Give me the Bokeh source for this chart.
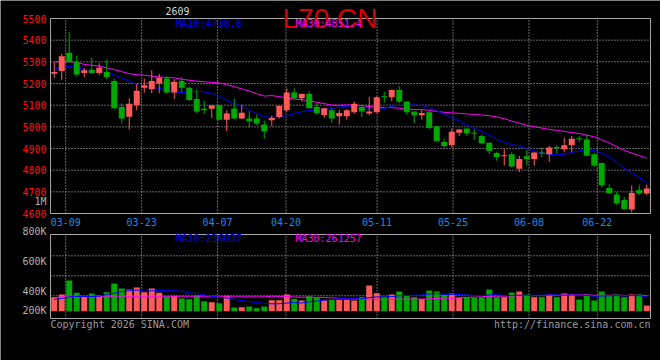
import numpy as np
import pandas as pd
from bokeh.plotting import figure
from bokeh.models import Range1d, Label
from bokeh.core.properties import value
from bokeh.embed import file_html
from bokeh.resources import INLINE

# ---------------- data ----------------
dates = ["03-05", "03-06",
         "03-09", "03-10", "03-11", "03-12", "03-13",
         "03-16", "03-17", "03-18", "03-19", "03-20",
         "03-23", "03-24", "03-25", "03-26", "03-27",
         "03-30", "03-31", "04-01", "04-02", "04-03",
         "04-07", "04-08", "04-09", "04-10",
         "04-13", "04-14", "04-15", "04-16", "04-17",
         "04-20", "04-21", "04-22", "04-23", "04-24",
         "04-27", "04-28", "04-29", "04-30",
         "05-06", "05-07", "05-08",
         "05-11", "05-12", "05-13", "05-14", "05-15",
         "05-18", "05-19", "05-20", "05-21", "05-22",
         "05-25", "05-26", "05-27", "05-28", "05-29",
         "06-01", "06-02", "06-03", "06-04", "06-05",
         "06-08", "06-09", "06-10", "06-11", "06-12",
         "06-15", "06-16", "06-17", "06-18",
         "06-22", "06-23", "06-24", "06-25", "06-26",
         "06-29", "06-30", "07-01"]

opens = [5245, 5258, 5342, 5298, 5248, 5264, 5248, 5253, 5211, 5091,
         5047, 5100, 5180, 5174, 5200, 5223, 5158, 5211, 5180, 5129,
         5083, 5083, 5100, 5033, 5085, 5038, 5039, 5038, 5011, 5030,
         5045, 5076, 5158, 5132, 5152, 5091, 5055, 5076, 5049, 5049,
         5067, 5091, 5061, 5067, 5141, 5136, 5170, 5117, 5071, 5053,
         5067, 5003, 4930, 4915, 4973, 4992, 4972, 4958, 4927, 4879,
         4865, 4874, 4806, 4864, 4852, 4881, 4874, 4906, 4897, 4915,
         4946, 4942, 4874, 4833, 4718, 4688, 4662, 4618, 4708, 4692]
highs = [5298, 5336, 5438, 5329, 5271, 5320, 5294, 5311, 5221, 5109,
         5133, 5200, 5223, 5261, 5245, 5233, 5220, 5230, 5185, 5173,
         5120, 5100, 5102, 5076, 5130, 5102, 5071, 5056, 5029, 5052,
         5097, 5177, 5177, 5155, 5165, 5109, 5086, 5086, 5079, 5082,
         5117, 5102, 5139, 5140, 5162, 5173, 5188, 5117, 5071, 5079,
         5079, 5003, 4945, 4992, 4988, 4992, 4988, 4965, 4927, 4885,
         4897, 4882, 4867, 4894, 4882, 4905, 4912, 4915, 4950, 4958,
         4958, 4965, 4880, 4833, 4735, 4700, 4677, 4730, 4733, 4733]
lows = [5227, 5215, 5295, 5233, 5230, 5245, 5238, 5220, 5082, 5015,
        4988, 5076, 5158, 5155, 5155, 5152, 5129, 5158, 5120, 5064,
        5059, 5041, 5029, 4980, 5035, 5035, 4996, 5006, 4945, 5003,
        5038, 5067, 5124, 5117, 5086, 5056, 5041, 5018, 5011, 5033,
        5061, 5045, 5053, 5065, 5112, 5117, 5109, 5056, 5018, 5033,
        4988, 4930, 4905, 4905, 4958, 4958, 4940, 4920, 4874, 4844,
        4821, 4812, 4791, 4821, 4821, 4859, 4838, 4877, 4882, 4882,
        4930, 4864, 4815, 4722, 4690, 4640, 4617, 4605, 4685, 4685]
closes = [5253, 5326, 5298, 5242, 5261, 5248, 5273, 5230, 5086, 5038,
          5106, 5167, 5192, 5211, 5226, 5158, 5208, 5180, 5124, 5071,
          5076, 5100, 5033, 5061, 5038, 5065, 5026, 5015, 4980, 5041,
          5097, 5158, 5132, 5152, 5086, 5064, 5086, 5038, 5064, 5076,
          5106, 5071, 5071, 5136, 5136, 5170, 5117, 5067, 5053, 5064,
          4995, 4935, 4912, 4977, 4988, 4970, 4968, 4924, 4889, 4861,
          4869, 4817, 4852, 4852, 4882, 4877, 4905, 4903, 4915, 4945,
          4943, 4867, 4821, 4730, 4694, 4647, 4621, 4695, 4692, 4715]
volumes = [233000, 278000, 511000, 306000, 239000, 294000, 261000, 317000, 461000, 378000,
           361000, 394000, 317000, 378000, 306000, 244000, 256000, 211000, 200000, 267000,
           167000, 150000, 133000, 256000, 61000, 67000, 78000, 50000, 78000, 183000,
           183000, 278000, 206000, 178000, 250000, 222000, 189000, 200000, 189000, 189000,
           178000, 233000, 428000, 300000, 244000, 278000, 328000, 261000, 233000, 206000,
           344000, 328000, 278000, 294000, 222000, 222000, 222000, 233000, 361000, 233000,
           233000, 311000, 328000, 278000, 233000, 233000, 278000, 233000, 294000, 278000,
           194000, 278000, 178000, 328000, 261000, 278000, 233000, 278000, 278000, 94000]

# moving averages at the left edge (need history before the window)
ma10_head = [5268, 5274, 5279, 5273, 5265, 5260, 5256, 5253, 5240]
ma30_head = [5300, 5300, 5300, 5298, 5288, 5284, 5280, 5272, 5264, 5255,
             5245, 5241, 5238, 5234, 5230, 5228, 5226, 5220, 5215, 5211,
             5208, 5205, 5203, 5194, 5185, 5175, 5165, 5153, 5142]
vol_ma10_head = [194000, 211000, 239000, 244000, 244000, 244000, 250000, 278000, 300000]
vol_ma30_head = [222000] + [239000] * 28

tick_dates = ["03-09", "03-23", "04-07", "04-20", "05-11", "05-25", "06-08", "06-22"]
price_ticks = [4600, 4700, 4800, 4900, 5000, 5100, 5200, 5300, 5400, 5500]
vol_tick_labels = ["800K", "600K", "400K", "200K"]
vol_grid = [257000, 590000, 923000]
vol_panel = (-122000, 1278000)   # value span of the volume panel box

title_text = "L70 CN"
contract_text = "2609"
unit_text = "1M"
price_ma_texts = ["MA10:4738.8", "MA30:4851.4"]
vol_ma_texts = ["MA10:236037", "MA30:261257"]
footer_left = "Copyright 2026 SINA.COM"
footer_right = "http://finance.sina.com.cn"

# ---------------- derived ----------------
n = len(dates)
x = np.arange(n)
o = np.array(opens, float)
c = np.array(closes, float)
up = c >= o
UP, DOWN = "#ff5a5a", "#00a800"
colors = [UP if u else DOWN for u in up]
btop = np.maximum(o, c)
bbot = np.minimum(o, c)
thin = (btop - bbot) < 4.6
mid = (btop + bbot) / 2
btop = np.where(thin, mid + 2.3, btop)
bbot = np.where(thin, mid - 2.3, bbot)

ma10 = pd.Series(c).rolling(10).mean().to_numpy()
ma10[:len(ma10_head)] = ma10_head
ma30 = pd.Series(c).rolling(30).mean().to_numpy()
ma30[:len(ma30_head)] = ma30_head
vv = np.array(volumes, float)
vma10 = pd.Series(vv).rolling(10).mean().to_numpy()
vma10[:len(vol_ma10_head)] = vol_ma10_head
vma30 = pd.Series(vv).rolling(30).mean().to_numpy()
vma30[:len(vol_ma30_head)] = vol_ma30_head

x_lo, x_hi = -0.5, n - 0.5
tick_idx = [dates.index(d) for d in tick_dates]
# the date grid is spread over n-1 steps across the panel (as in the source chart)
tick_x = [x_lo + i * n / (n - 1) for i in tick_idx]

FONT = "DejaVu Sans Mono"
GRID = "#c8c8c8"
BORDER = "#a8a8a8"

# layout geometry (pixels)
W, H = 660, 360
LEFT, RIGHT = 50, 10
SLOT = (W - LEFT - RIGHT) / n
P_TOP, P_BOT = 18, 213      # price panel box, page y
V_TOP, V_BOT = 234, 318     # volume panel box, page y

xr = Range1d(x_lo - LEFT / SLOT, x_hi + RIGHT / SLOT)

pmin, pmax = price_ticks[0], price_ticks[-1]
s1 = (pmax - pmin) / (P_BOT - P_TOP)
yr = Range1d(pmin - (H - P_BOT) * s1, pmax + P_TOP * s1)

vlo, vhi = vol_panel
s2 = (vhi - vlo) / (V_BOT - V_TOP)
vr = Range1d(vlo - (H - V_BOT) * s2, vhi + V_TOP * s2)

p = figure(width=W, height=H, x_range=xr, y_range=yr, output_backend="svg",
           toolbar_location=None, title=None, x_axis_location=None, y_axis_location=None,
           background_fill_color="black", border_fill_color="black", min_border=0)
p.extra_y_ranges = {"vol": vr}
p.outline_line_color = None
p.xgrid.visible = False
p.ygrid.visible = False


def lab(xx, page_y, text, color, align="left", size="10px", font=FONT, baseline="middle"):
    p.add_layout(Label(x=xx, y=H - page_y, x_units="screen", y_units="screen", text=text,
                       text_font=font, text_font_size=size, text_color=color,
                       text_align=align, text_baseline=baseline))


# ---------------- price panel ----------------
p.segment(x0=tick_x, x1=tick_x, y0=pmin, y1=pmax, line_color=GRID, line_dash="1 2")
p.segment(x0=x_lo, x1=x_hi, y0=price_ticks[1:-1], y1=price_ticks[1:-1], line_color=GRID,
          line_dash="1 2")
p.line(x, ma30, line_color="#ff00ff", line_width=1)
p.line(x, ma10, line_color="#0000ff", line_width=1)
p.segment(x0=x, y0=highs, x1=x, y1=lows, line_color=colors, line_width=1)
p.vbar(x=x, width=0.8, top=btop, bottom=bbot, fill_color=colors, line_color=None)
p.quad(left=x_lo, right=x_hi, bottom=pmin, top=pmax, fill_color=None, line_color=BORDER)

p.text(x=x_lo, y=price_ticks, text=[str(t) for t in price_ticks], x_offset=-4,
       text_align="right", text_baseline="middle", text_font=value(FONT),
       text_font_size="10px", text_color="#ff1010")
p.text(x=tick_x, y=pmin, text=tick_dates, y_offset=8, text_align="center",
       text_baseline="middle", text_font=value(FONT), text_font_size="10px",
       text_color="#1a8ae6")

# ---------------- volume panel ----------------
p.segment(x0=tick_x, x1=tick_x, y0=vlo, y1=vhi, line_color=GRID, line_dash="1 2",
          y_range_name="vol")
p.segment(x0=x_lo, x1=x_hi, y0=vol_grid, y1=vol_grid, line_color=GRID, line_dash="1 2",
          y_range_name="vol")
p.vbar(x=x, width=0.8, top=vv, bottom=0, fill_color=colors, line_color=None,
       y_range_name="vol")
p.line(x, vma30, line_color="#ff00ff", line_width=1, y_range_name="vol")
p.line(x, vma10, line_color="#0000ff", line_width=1, y_range_name="vol")
p.quad(left=x_lo, right=x_hi, bottom=vlo, top=vhi, fill_color=None, line_color=BORDER,
       y_range_name="vol")

# ---------------- texts ----------------
lab(46, 201.2, unit_text, "#b0b0b0", align="right")
lab(165, 10.5, contract_text, "#d8d8d8")
lab(282, 17.5, title_text, "#dd0000", size="28px", font="Liberation Sans")
lab(175, 23.3, price_ma_texts[0], "#0000ee")
lab(295, 23.3, price_ma_texts[1], "#ff00ff")

for t, yy in zip(vol_tick_labels, [230.7, 260.7, 290.7, 310.3]):
    lab(46, yy, t, "#b0b0b0", align="right")
lab(175, 238.3, vol_ma_texts[0], "#0000ee")
lab(295, 238.3, vol_ma_texts[1], "#ff00ff")
lab(50, 323.7, footer_left, "#9a9a9a")
lab(650, 323.7, footer_right, "#9a9a9a", align="right")

open("out.html", "w").write(file_html(p, INLINE))
